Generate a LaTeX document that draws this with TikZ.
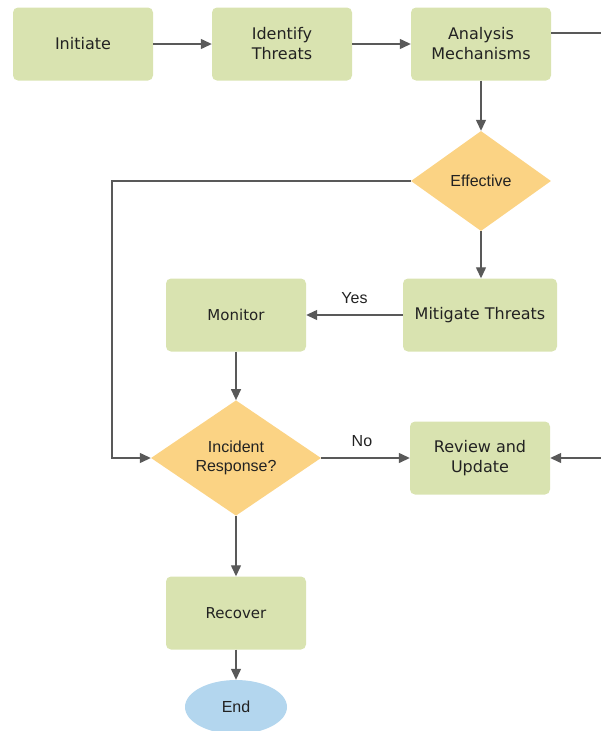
\documentclass[tikz,border=0pt]{standalone}
\usepackage{fontspec}
\setmainfont{DejaVu Sans}
\newfontfamily\arialf{Liberation Sans}
\usetikzlibrary{shapes.geometric,arrows.meta}
\definecolor{boxfill}{HTML}{D9E3B0}
\definecolor{diafill}{HTML}{FBD384}
\definecolor{endfill}{HTML}{B3D6EE}
\definecolor{linec}{HTML}{595959}
\definecolor{txt}{HTML}{222222}
\begin{document}
\begin{tikzpicture}[x=1pt,y=-1pt,
  procbox/.style={rectangle,rounded corners=5pt,fill=boxfill,draw=none,
    minimum width=140pt,minimum height=73pt,align=center,text=txt,
    font=\fontsize{16}{20}\selectfont,inner sep=0pt},
  decide/.style={diamond,fill=diafill,draw=none,align=center,text=txt,inner sep=0pt,
    font=\arialf\fontsize{16}{19.5}\selectfont},
  terminal/.style={ellipse,fill=endfill,draw=none,minimum width=102pt,minimum height=54pt,
    inner sep=0pt,text=txt,font=\arialf\fontsize{16}{19}\selectfont},
  arr/.style={draw=linec,line width=1.3pt,-{Triangle[length=11pt,width=10pt]}},
  plainline/.style={draw=linec,line width=1.3pt},
  lbl/.style={text=txt,font=\arialf\fontsize{16}{19}\selectfont,inner sep=0pt}]
\useasboundingbox (0,0) rectangle (600,731);

\node[procbox] (init) at (83,44) {Initiate};
\node[procbox] (idt) at (282,44) {Identify\\Threats};
\node[procbox] (am) at (481,44) {Analysis\\Mechanisms};
\node[decide,minimum width=140pt,minimum height=100pt] (eff) at (481,181) {Effective};
\node[procbox,minimum width=154pt] (mit) at (480,315) {Mitigate Threats};
\node[procbox,font=\fontsize{15}{19}\selectfont] (mon) at (236,315) {Monitor};
\node[decide,minimum width=170pt,minimum height=114pt] (ir) at (236,458) {Incident\\Response?};
\node[procbox] (ru) at (480,458) {Review and\\Update};
\node[procbox,font=\fontsize{15}{19}\selectfont] (rec) at (236,613) {Recover};
\node[terminal] (end) at (236,707) {End};

\coordinate (offR) at (640,33);
\coordinate (lft) at (112,181);

\draw[arr] (init) -- (idt);
\draw[arr] (idt) -- (am);
\draw[plainline] ([yshift=11pt]am.east) -- (offR);
\draw[arr] (offR) |- (ru.east);
\draw[arr] (am.south) -- (eff.north);
\draw[arr] (eff.west) -- (lft) |- (ir.west);
\draw[arr] (eff.south) -- (eff.south |- mit.north);
\draw[arr] (mit.west) -- node[lbl,above=11pt] {Yes} (mon.east);
\draw[arr] (mon.south) -- (ir.north);
\draw[arr] (ir.east) -- node[lbl,pos=0.46,above=11pt] {No} (ru.west);
\draw[arr] (ir.south) -- (rec.north);
\draw[arr] (rec.south) -- (end.north);
\end{tikzpicture}
\end{document}
